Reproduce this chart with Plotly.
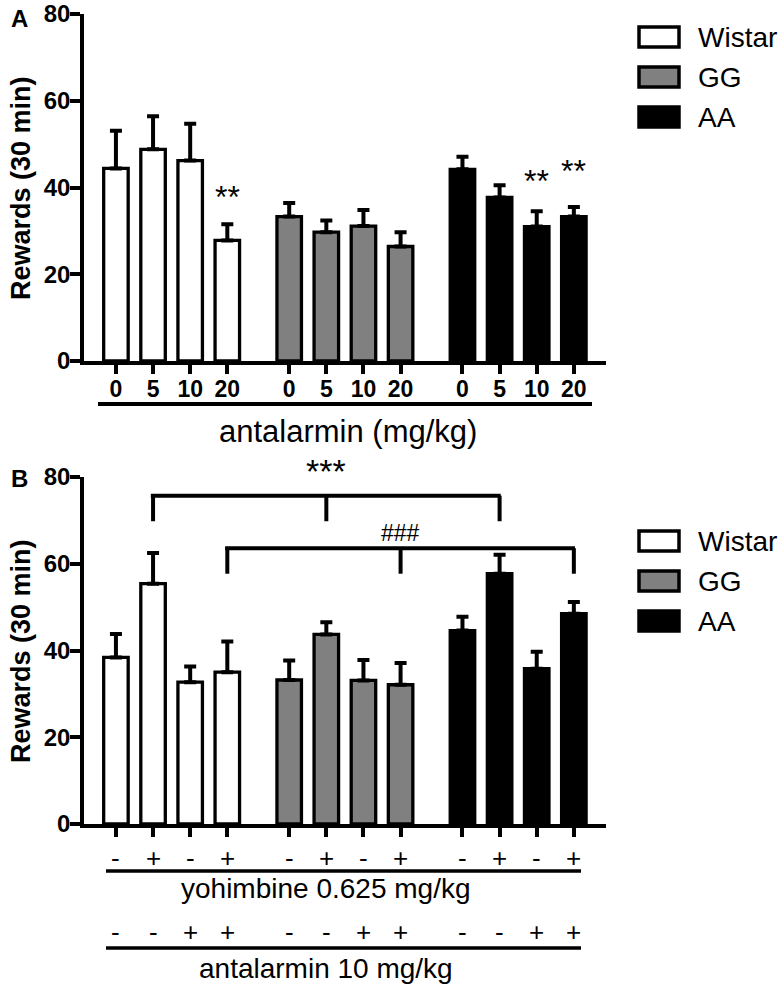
import plotly.graph_objects as go

# panel A: antalarmin dose response
doses = ["0", "5", "10", "20"]
groups = ["Wistar", "GG", "AA"]
colors = ["white", "#808080", "black"]

a_wistar = [44.4, 48.8, 46.2, 27.8]
a_wistar_err = [8.7, 7.6, 8.5, 3.7]
a_gg = [33.3, 29.7, 31.1, 26.4]
a_gg_err = [3.1, 2.7, 3.7, 3.3]
a_aa = [44.2, 37.7, 31.0, 33.3]
a_aa_err = [2.9, 2.8, 3.5, 2.2]
a_stars = [("Wistar", 3, 37.9), ("AA", 2, 41.4), ("AA", 3, 43.9)]

# panel B: yohimbine x antalarmin
yohimbine = ["-", "+", "-", "+"]
antalarmin = ["-", "-", "+", "+"]
b_wistar = [38.4, 55.4, 32.7, 35.0]
b_wistar_err = [5.4, 7.1, 3.6, 7.1]
b_gg = [33.2, 43.7, 33.1, 32.1]
b_gg_err = [4.5, 2.8, 4.7, 5.0]
b_aa = [44.6, 57.7, 35.8, 48.5]
b_aa_err = [3.2, 4.4, 3.9, 2.7]
# brackets: bar index in each group, line level, tick bottom, label, label level
b_brackets = [(1, 75.7, 69.8, "***", 81.3), (3, 63.6, 57.7, "###", 67.1)]

FONT = "Liberation Sans, Arial, sans-serif"
W, H = 784, 984
GROUP_STEP = 4.667
YMAX = 80


def pos(g, i):
    return g * GROUP_STEP + i


def px(x):
    return x / W


def py(y):
    return 1 - y / H


A_DOM = [py(361), py(14)]
B_DOM = [py(824), py(477)]


def b_paper(v):
    return B_DOM[0] + v / YMAX * (B_DOM[1] - B_DOM[0])


fig = go.Figure()

panels = [
    ("x", "y", [(a_wistar, a_wistar_err), (a_gg, a_gg_err), (a_aa, a_aa_err)]),
    ("x2", "y2", [(b_wistar, b_wistar_err), (b_gg, b_gg_err), (b_aa, b_aa_err)]),
]
for xa, ya, series in panels:
    for g, (vals, errs) in enumerate(series):
        fig.add_trace(go.Bar(
            x=[pos(g, i) for i in range(len(vals))], y=vals, width=0.66,
            marker=dict(color=colors[g], line=dict(color="black", width=3.3)),
            error_y=dict(type="data", symmetric=False, array=errs,
                         arrayminus=[0] * len(errs), color="black",
                         thickness=4, width=6),
            xaxis=xa, yaxis=ya, showlegend=False, name=groups[g],
        ))

all_pos = [pos(g, i) for g in range(3) for i in range(4)]
xcommon = dict(range=[-0.86, 13.2], showline=True, linewidth=3.5, linecolor="black",
               ticks="outside", ticklen=9, tickwidth=3.5, tickcolor="black",
               showgrid=False, zeroline=False, tickvals=all_pos, automargin=False,
               domain=[px(84), px(606)])
ycommon = dict(range=[0, YMAX], showline=True, linewidth=3.5, linecolor="black",
               ticks="outside", ticklen=10, tickwidth=3.5, tickcolor="black",
               showgrid=False, zeroline=False, tickvals=[0, 20, 40, 60, 80],
               automargin=False, ticklabelstandoff=-5,
               tickfont=dict(family=FONT, size=24, color="black", weight="bold"))

fig.update_layout(
    xaxis=dict(xcommon, anchor="y", ticktext=doses * 3, ticklabelstandoff=-4,
               tickfont=dict(family=FONT, size=23, color="black", weight="bold")),
    yaxis=dict(ycommon, anchor="x", domain=A_DOM),
    xaxis2=dict(xcommon, anchor="y2", showticklabels=False),
    yaxis2=dict(ycommon, anchor="x2", domain=B_DOM),
    barmode="overlay",
    width=W, height=H, margin=dict(l=0, r=0, t=0, b=0, pad=0),
    paper_bgcolor="white", plot_bgcolor="white",
    font=dict(family=FONT, color="black"),
)

shapes = []
ann = []


def note(text, x, y, size, xref="paper", yref="paper", xanchor="center", **kw):
    ann.append(dict(text=text, x=x, y=y, xref=xref, yref=yref, xanchor=xanchor,
                    yanchor="middle", showarrow=False, font=dict(size=size), **kw))


# panel letters and y titles
for letter, ly, cy in [("A", 19, 188), ("B", 478, 651)]:
    note("<b>%s</b>" % letter, px(19), py(ly), 24)
    note("<b>Rewards (30 min)</b>", px(21), py(cy), 27, textangle=-90)

# legends
for centers in [(37, 77, 117), (541, 581, 621)]:
    for g, cy in enumerate(centers):
        shapes.append(dict(type="rect", xref="paper", yref="paper",
                           x0=px(639), x1=px(679), y0=py(cy + 10), y1=py(cy - 10),
                           fillcolor=colors[g], line=dict(color="black", width=3.5)))
        note(groups[g], px(696), py(cy), 28, xanchor="left")

# panel A stars, x label
for grp, i, yv in a_stars:
    note("**", pos(groups.index(grp), i), yv, 32, xref="x", yref="y")
shapes.append(dict(type="line", xref="paper", yref="paper", x0=px(98), x1=px(592),
                   y0=py(404), y1=py(404), line=dict(color="black", width=4)))
note("antalarmin (mg/kg)", px(348), py(431), 31)

# panel B brackets
for i, top, bottom, label, ly in b_brackets:
    xs = [pos(g, i) for g in range(3)]
    shapes.append(dict(type="line", xref="x2", yref="y2", x0=xs[0] - 0.06, x1=xs[-1] + 0.03,
                       y0=top, y1=top, line=dict(color="black", width=4)))
    for xv in xs:
        shapes.append(dict(type="line", xref="x2", yref="y2", x0=xv, x1=xv, y0=top, y1=bottom,
                           line=dict(color="black", width=4)))
    note(label, xs[1], b_paper(ly), 34 if label == "***" else 23, xref="x2")

# panel B treatment rows
rows = [(yohimbine, 858, 871, "yohimbine 0.625 mg/kg", 888),
        (antalarmin, 932, 948, "antalarmin 10 mg/kg", 968)]
for signs, ry, liney, label, laby in rows:
    for g in range(3):
        for i, s in enumerate(signs):
            note(s, pos(g, i), py(ry), 26, xref="x2")
    shapes.append(dict(type="line", xref="paper", yref="paper", x0=px(106), x1=px(581),
                       y0=py(liney), y1=py(liney), line=dict(color="black", width=3.5)))
    note(label, px(326), py(laby), 28)

fig.update_layout(shapes=shapes, annotations=ann)
fig.write_html("out.html", config={"displayModeBar": False},
               post_script="document.body.style.margin='0';document.body.style.overflow='hidden';")
